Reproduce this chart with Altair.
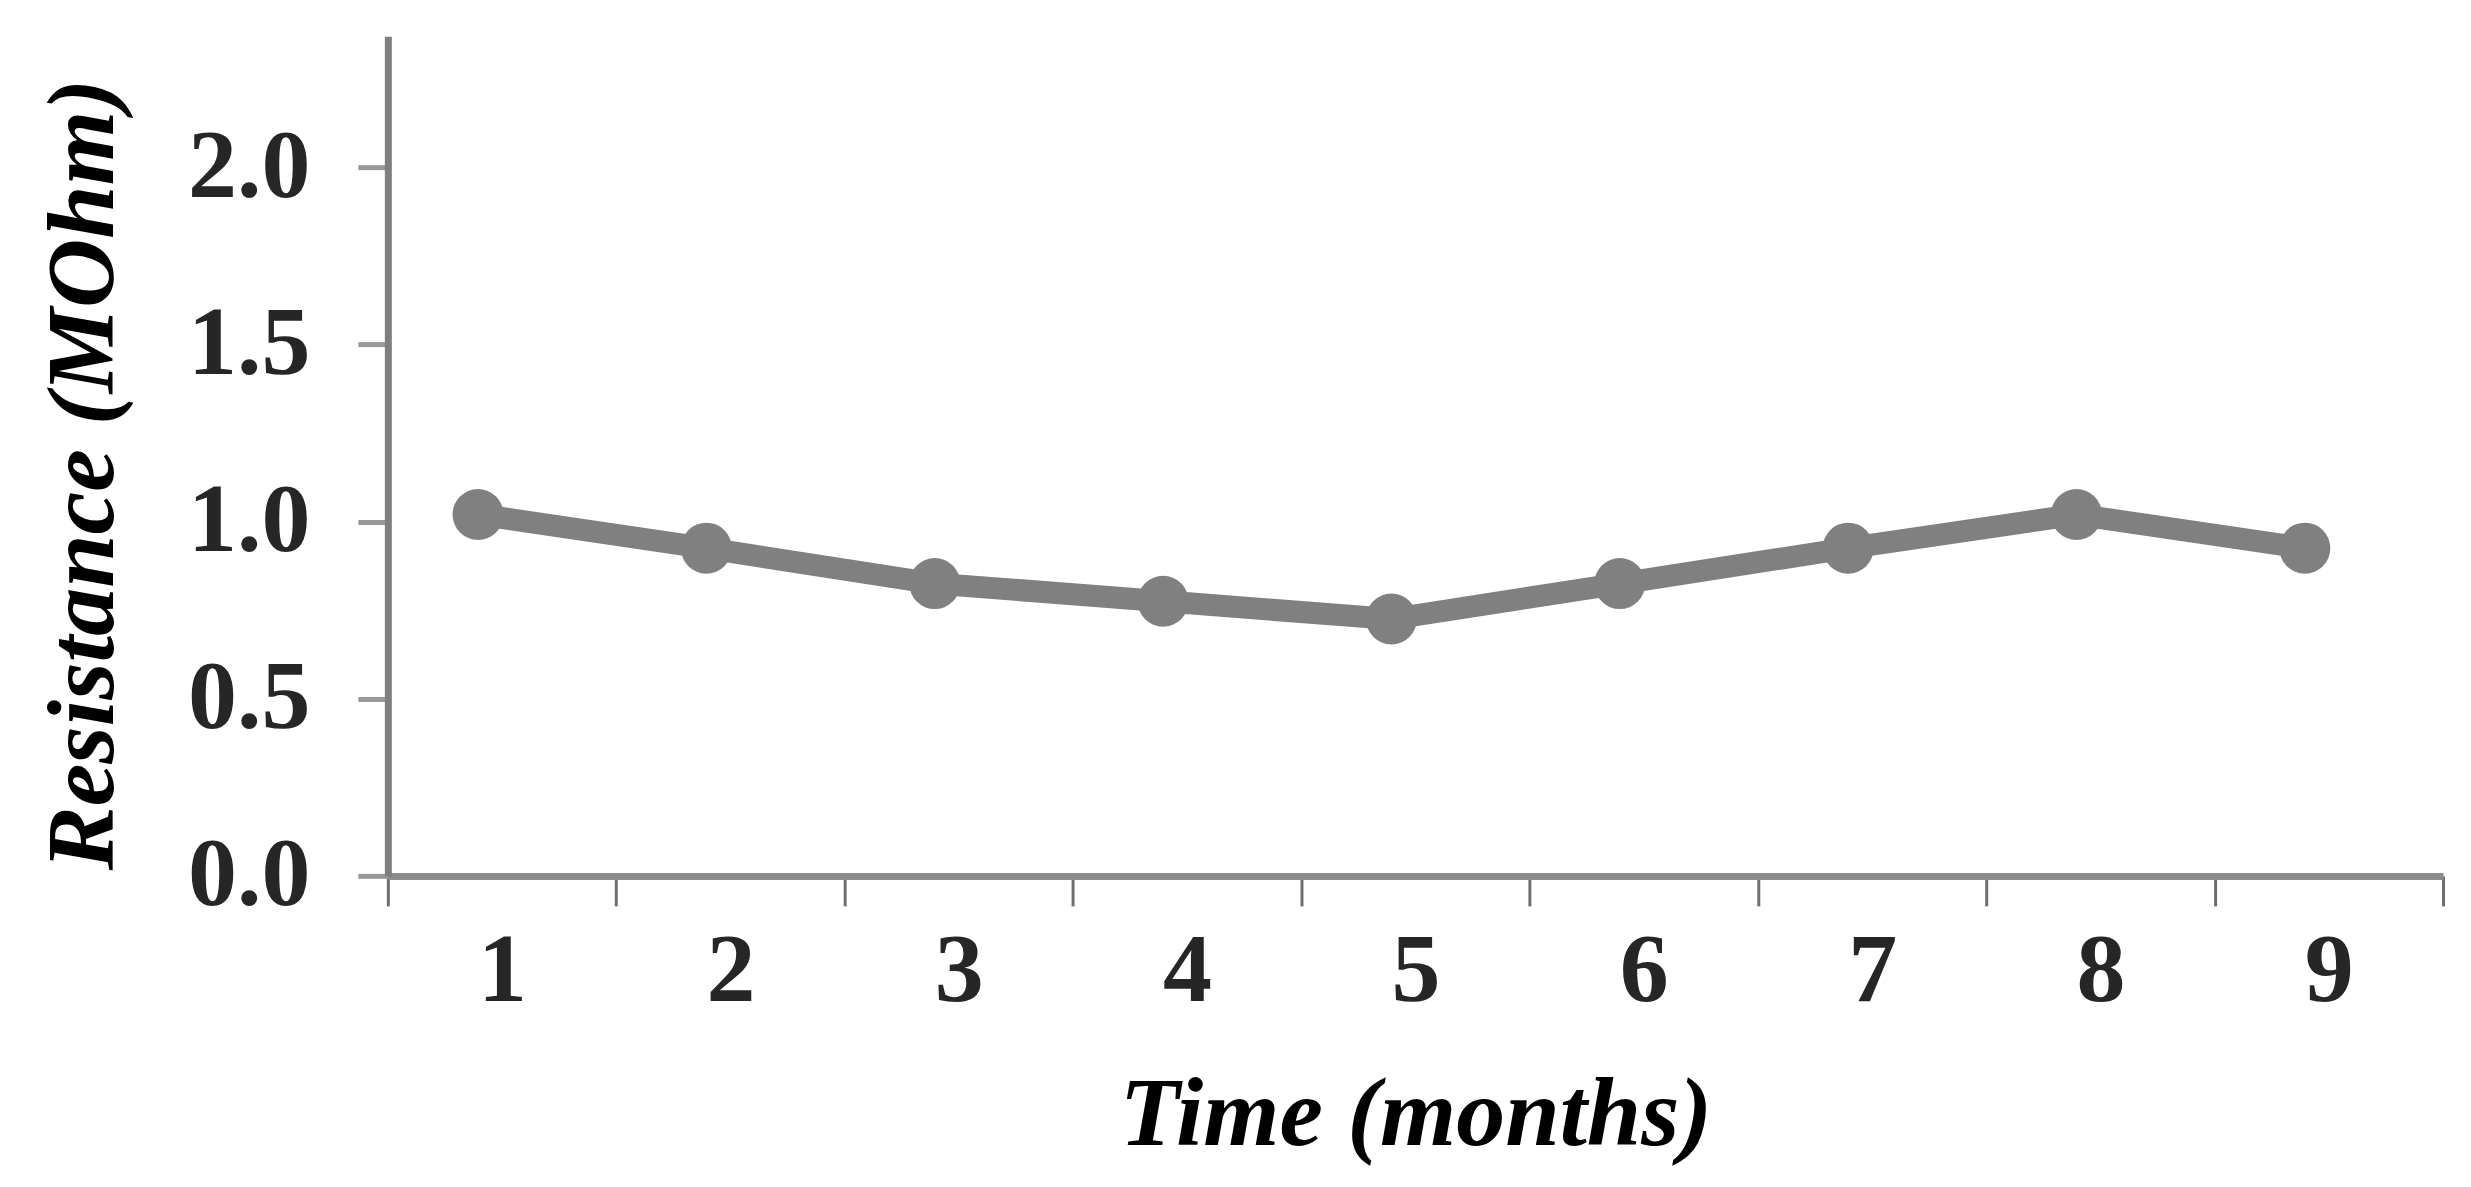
import altair as alt
import pandas as pd

months = [1, 2, 3, 4, 5, 6, 7, 8, 9]
resistance = [1.02, 0.925, 0.825, 0.775, 0.725, 0.825, 0.925, 1.02, 0.925]
y_ticks = [0.0, 0.5, 1.0, 1.5, 2.0]
x_tick_values = [0.5, 1, 1.5, 2, 2.5, 3, 3.5, 4, 4.5, 5, 5.5, 6, 6.5, 7, 7.5, 8, 8.5, 9, 9.5]

df = pd.DataFrame({"month": months, "res": resistance})

FONT = "Liberation Serif"
GRAY = "#808080"

x_enc = alt.X(
    "month:Q",
    scale=alt.Scale(domain=[0.5, 9.5], nice=False, zero=False),
    axis=alt.Axis(
        values=x_tick_values,
        labelExpr="datum.value % 1 === 0 ? format(datum.value, 'd') : ''",
        tickOpacity={"condition": {"test": "datum.value % 1 === 0", "value": 0}, "value": 1},
        grid=False,
        domainColor="#8c8c8c",
        domainWidth=7,
        tickColor="#6e6e6e",
        tickWidth=3,
        tickSize=30,
        labelFont=FONT,
        labelFontWeight="bold",
        labelFontSize=98,
        labelColor="#262626",
        labelPadding=18,
        labelFlush=False,
        labelOverlap=False,
        title="Time (months)",
        titleFont=FONT,
        titleFontWeight="bold",
        titleFontStyle="italic",
        titleFontSize=98,
        titleColor="#000000",
        titleBaseline="alphabetic",
        titleAlign="center",
        titleY=269,
    ),
)

y_enc = alt.Y(
    "res:Q",
    scale=alt.Scale(domain=[0, 2.37], nice=False),
    axis=alt.Axis(
        values=y_ticks,
        format=".1f",
        grid=False,
        domainColor="#7f7f7f",
        domainWidth=7,
        tickColor="#999999",
        tickWidth=5,
        tickSize=30,
        labelFont=FONT,
        labelFontWeight="bold",
        labelFontSize=98,
        labelColor="#262626",
        labelPadding=48,
        labelOverlap=False,
        labelFlush=False,
        title="Resistance (MOhm)",
        titleFont=FONT,
        titleFontWeight="bold",
        titleFontStyle="italic",
        titleFontSize=96,
        titleColor="#000000",
        titleAngle=270,
        titleBaseline="alphabetic",
        titleAlign="center",
        titleX=-275,
        titleY=438,
    ),
)

base = alt.Chart(df).encode(x=x_enc, y=y_enc)
line = base.mark_line(color=GRAY, strokeWidth=22, xOffset=-24)
pts = base.mark_circle(color=GRAY, opacity=1, size=2600, xOffset=-24)

chart = (
    alt.layer(line, pts)
    .properties(
        width=2056,
        height=840,
        padding={"left": 380, "top": 28, "right": 20, "bottom": 290},
        autosize=alt.AutoSizeParams(type="none"),
        background="white",
    )
    .configure_view(stroke=None)
)

chart.save("out.html", embed_options={"renderer": "svg", "actions": False})
